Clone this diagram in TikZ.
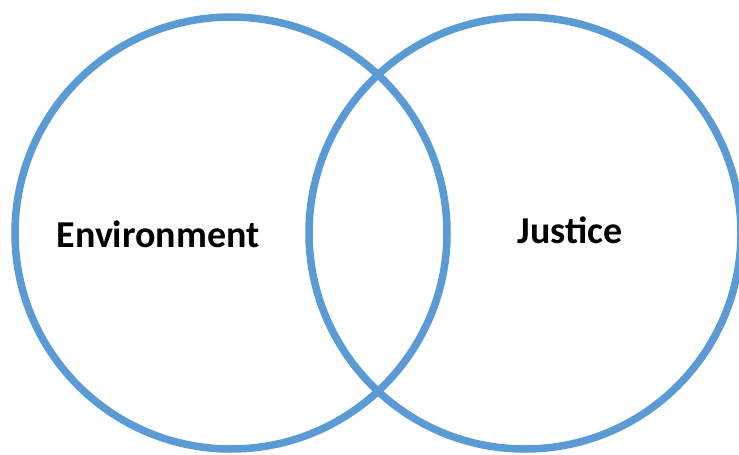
\documentclass[tikz,border=0pt]{standalone}
\usepackage{fontspec}
\setmainfont{Carlito}
\definecolor{vennblue}{HTML}{5B9BD5}
\begin{document}
\begin{tikzpicture}[x=1pt,y=-1pt,
  ring/.style={draw=vennblue,line width=7.5pt,circle,minimum size=432pt,inner sep=0pt},
  lbl/.style={font=\fontsize{38}{38}\selectfont\bfseries,text=black,inner sep=0pt}]
\useasboundingbox[fill=white] (0,0) rectangle (739,455);
\node[ring] (left) at (231,233) {};
\node[ring] (right) at (525,233) {};
\node[lbl] (env) at (158,234) {Environment};
\node[lbl] (jus) at (570,230) {Justice};
\end{tikzpicture}
\end{document}
